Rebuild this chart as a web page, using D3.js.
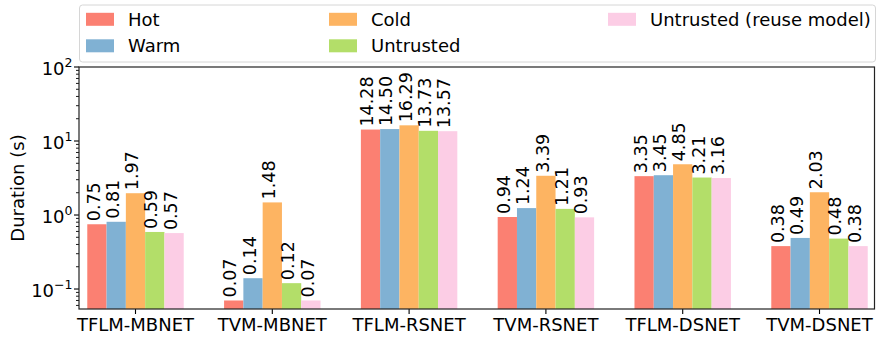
<!DOCTYPE html>
<html>
<head>
<meta charset="utf-8">
<script src="https://cdn.jsdelivr.net/npm/d3@7/dist/d3.min.js"></script>
<style>
  html, body { margin: 0; padding: 0; background: #fff; }
  svg { display: block; font-family: "DejaVu Sans", sans-serif; }
</style>
</head>
<body>
<svg id="chart" width="885" height="337"></svg>
<script>
const categories = ["TFLM-MBNET", "TVM-MBNET", "TFLM-RSNET", "TVM-RSNET", "TFLM-DSNET", "TVM-DSNET"];
const seriesNames = ["Hot", "Warm", "Cold", "Untrusted", "Untrusted (reuse model)"];
const seriesColors = ["#fb8072", "#80b1d3", "#fdb462", "#b3de69", "#fccde5"];
const hot       = [0.75, 0.07, 14.28, 0.94, 3.35, 0.38];
const warm      = [0.81, 0.14, 14.50, 1.24, 3.45, 0.49];
const cold      = [1.97, 1.48, 16.29, 3.39, 4.85, 2.03];
const untrusted = [0.59, 0.12, 13.73, 1.21, 3.21, 0.48];
const reuse     = [0.57, 0.07, 13.57, 0.93, 3.16, 0.38];
const yTickValues = [0.1, 1, 10, 100];
const yTickExponents = ["−1", "0", "1", "2"];
const yLabel = "Duration (s)";

const series = [hot, warm, cold, untrusted, reuse];

const svg = d3.select("#chart");
const L = 79, R = 874.5, T = 67, B = 309;

const x = d3.scaleLinear().domain([-0.413, 5.402]).range([L, R]);
const y = d3.scaleLog().domain([0.0537, 100]).range([B, T]);
const bw = 0.141;

// bars
series.forEach((vals, j) => {
  const g = svg.append("g");
  vals.forEach((v, i) => {
    const cx = i + (j - 2) * bw;
    const x0 = x(cx - bw / 2), x1 = x(cx + bw / 2);
    g.append("rect")
      .attr("x", x0).attr("y", y(v))
      .attr("width", x1 - x0).attr("height", B - y(v))
      .attr("fill", seriesColors[j]);
    g.append("text")
      .attr("transform", `translate(${x(cx)},${y(v) - 3}) rotate(-90)`)
      .attr("dy", "0.15em")
      .attr("text-anchor", "start")
      .attr("font-size", 17.5)
      .attr("fill", "#000")
      .text(v.toFixed(2));
  });
});

// y axis ticks (major + minor)
const minor = [];
for (let e = -2; e <= 1; e++) {
  for (let m = 2; m <= 9; m++) {
    const v = m * Math.pow(10, e);
    if (v >= y.domain()[0] && v <= 100) minor.push(v);
  }
}
const axG = svg.append("g").attr("stroke", "#000");
minor.forEach(v => {
  axG.append("line").attr("x1", L).attr("x2", L - 3).attr("y1", y(v)).attr("y2", y(v)).attr("stroke-width", 0.9);
});
yTickValues.forEach((v, k) => {
  axG.append("line").attr("x1", L).attr("x2", L - 5).attr("y1", y(v)).attr("y2", y(v)).attr("stroke-width", 1.1);
  const t = svg.append("text")
    .attr("x", 72.5).attr("y", y(v) + 8)
    .attr("text-anchor", "end")
    .attr("font-size", 18)
    .attr("fill", "#000");
  t.append("tspan").text("10");
  t.append("tspan").attr("dy", -8.5).attr("font-size", 12.5).text(yTickExponents[k]);
});

// x axis ticks and labels
categories.forEach((c, i) => {
  axG.append("line").attr("x1", x(i)).attr("x2", x(i)).attr("y1", B).attr("y2", B + 5).attr("stroke-width", 1.1);
  svg.append("text")
    .attr("x", x(i)).attr("y", 330.5)
    .attr("text-anchor", "middle")
    .attr("font-size", 18)
    .attr("fill", "#000")
    .text(c);
});

// frame
svg.append("rect")
  .attr("x", L).attr("y", T).attr("width", R - L).attr("height", B - T)
  .attr("fill", "none").attr("stroke", "#222").attr("stroke-width", 1.2);

// y label
svg.append("text")
  .attr("transform", `translate(23.5,${(T + B) / 2}) rotate(-90)`)
  .attr("text-anchor", "middle")
  .attr("font-size", 18)
  .attr("fill", "#000")
  .text(yLabel);

// legend
svg.append("rect")
  .attr("x", 79.5).attr("y", 5).attr("width", 796).attr("height", 57)
  .attr("rx", 3).attr("ry", 3)
  .attr("fill", "#fff").attr("fill-opacity", 0.8)
  .attr("stroke", "#d6d6d6").attr("stroke-width", 1);
const colX = [86, 329, 608];
const rowY = [19.3, 45.8];
seriesNames.forEach((name, j) => {
  const col = Math.floor(j / 2), row = j % 2;
  svg.append("rect")
    .attr("x", colX[col]).attr("y", rowY[row] - 6.5)
    .attr("width", 28).attr("height", 13)
    .attr("fill", seriesColors[j]);
  svg.append("text")
    .attr("x", colX[col] + 42).attr("y", rowY[row] + 6.5)
    .attr("font-size", 18)
    .attr("fill", "#000")
    .text(name);
});
</script>
</body>
</html>
